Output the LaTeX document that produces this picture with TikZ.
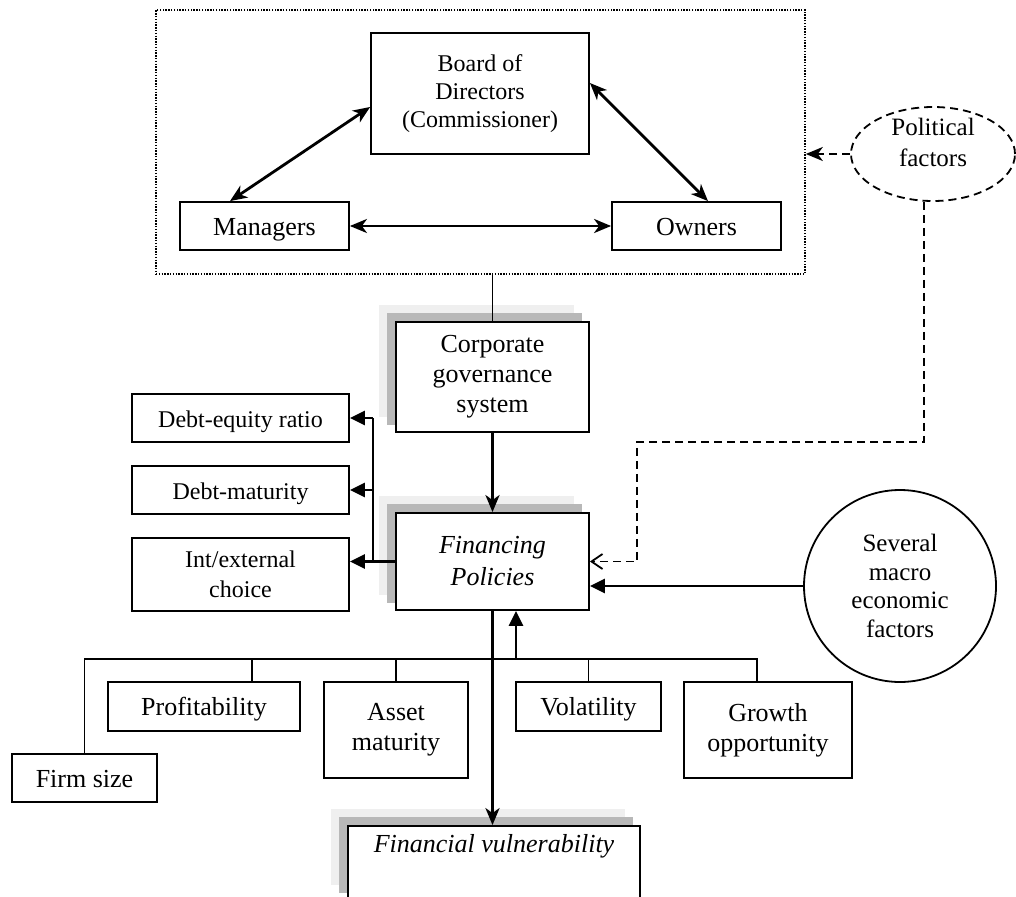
\documentclass[tikz,border=0pt]{standalone}
\usepackage{fontspec}
\setmainfont{Liberation Serif}
\usetikzlibrary{arrows.meta,shapes.geometric,backgrounds,calc}
\definecolor{shlight}{HTML}{EFEFEF}
\definecolor{shdark}{HTML}{B8B8B8}
\newcommand{\fz}[2]{\fontsize{#1}{#2}\selectfont}
\newcommand{\dropshadows}[1]{%
  \fill[shlight] ([shift={(-16,-16)}]#1.south west) rectangle ([shift={(-16,-16)}]#1.north east);
  \fill[shdark] ([shift={(-8,-8)}]#1.south west) rectangle ([shift={(-8,-8)}]#1.north east);}
\tikzset{
  box/.style={draw, line width=1.8pt, fill=white, align=center, inner sep=0pt, font=\fz{26}{30}},
  single/.style={text height=18pt, text depth=0pt},
  smallbox/.style={box, font=\fz{24}{30}},
  link/.style={line width=1.7pt},
  tri/.tip={Triangle[length=15pt,width=14pt]},
  stl/.tip={Stealth[length=17pt,width=14pt,inset=5pt]},
  arr/.style={line width=2.8pt, -tri},
  sarr/.style={line width=2.8pt, -stl},
  dbl/.style={line width=2.8pt, stl-stl},
  dsh/.style={line width=1.8pt, dash pattern=on 8pt off 5pt},
}
\begin{document}
\begin{tikzpicture}[x=1pt,y=-1pt]
\useasboundingbox (0,0) rectangle (1016,896);
\clip (0,0) rectangle (1016,896);

% governance group (dotted frame)
\node[draw, line width=1.6pt, dash pattern=on 1.4pt off 1.4pt, minimum width=649pt, minimum height=264pt, inner sep=0pt] (gov) at (480.5,142) {};
\node[box, minimum width=218pt, minimum height=121pt, font=\fz{24}{28}] (board) at (480,93.5) {Board of\\Directors\\(Commissioner)};
\node[box, single, minimum width=169pt, minimum height=48pt] (managers) at (264.5,226) {Managers};
\node[box, single, minimum width=169pt, minimum height=48pt] (owners) at (696.5,226) {Owners};

\draw[dbl] ([yshift=-13.5pt]board.west) -- ([xshift=-34.5pt]managers.north);
\draw[dbl] ([yshift=10.5pt]board.east) -- ([xshift=11.5pt]owners.north);
\draw[dbl] (managers.east) -- (owners.west);

% political factors
\node[draw, ellipse, line width=1.8pt, dash pattern=on 8pt off 5pt, minimum width=164pt, minimum height=94pt, inner sep=0pt,
      label={[yshift=12pt, align=center, font=\fz{25}{31}]center:Political\\factors}] (pol) at (933,154) {};
\draw[dsh, -stl] (pol.west) -- (pol.west -| gov.east);

% main chain
\node[box, minimum width=193pt, minimum height=110pt] (corp) at (492.5,377) {Corporate\\governance\\system};
\node[box, minimum width=193pt, minimum height=97pt, font=\fz{26}{32}\itshape] (fin) at (492.5,561.5) {Financing\\Policies};
\node[box, minimum width=292pt, minimum height=0pt, text height=26pt, text depth=48pt, font=\fz{26}{30}\itshape] (fv) at (494,863) {Financial vulnerability};

\begin{scope}[on background layer]
  \dropshadows{corp}
  \dropshadows{fin}
  \dropshadows{fv}
\end{scope}

\draw[link] (corp.north |- gov.south) -- (corp.north);
\draw[sarr] (corp.south) -- (fin.north);
\draw[sarr] (fin.south) -- (fin.south |- fv.north);

% left outcome boxes
\node[smallbox, single, minimum width=217pt, minimum height=48pt] (de) at (240.5,418) {Debt-equity ratio};
\node[smallbox, single, minimum width=217pt, minimum height=48pt] (dm) at (240.5,490) {Debt-maturity};
\node[smallbox, minimum width=217pt, minimum height=73pt] (ie) at (240.5,574.5) {Int/external\\choice};

\coordinate (bt) at (373,418);
\coordinate (bb) at (373,561.5);
\draw[line width=2.8pt] (bb) -- (bt);
\draw[arr] (fin.west) -- (fin.west -| ie.east);
\draw[arr] (bt) -- (bt -| de.east);
\draw[arr] (bt |- dm.east) -- (dm.east);

% macro factors
\node[draw, circle, line width=1.8pt, minimum size=192pt, inner sep=0pt, align=center, font=\fz{25}{28.5}] (macro) at (900,586) {Several\\macro\\economic\\factors};
\draw[arr] (macro.west) -- (macro.west -| fin.east);

% political dashed path to financing
\coordinate (p1) at (924,442);
\coordinate (p2) at (637,442);
\draw[dsh, -{Straight Barb[length=11pt,width=15pt]}] ([xshift=-9pt]pol.south) -- (p1) -- (p2) -- (p2 |- fin.east) -- (fin.east);

% firm-level factors
\node[box, single, minimum width=192pt, minimum height=49pt] (prof) at (204,706.5) {Profitability};
\node[box, minimum width=144pt, minimum height=96pt] (asset) at (396,730) {Asset\\maturity};
\node[box, single, minimum width=145pt, minimum height=49pt] (vol) at (588.5,706.5) {Volatility};
\node[box, minimum width=168pt, minimum height=96pt] (growth) at (768,730) {Growth\\opportunity};
\node[box, single, minimum width=145pt, minimum height=48pt] (firm) at (84.5,778) {Firm size};

\coordinate (busL) at (84.5,659);
\coordinate (busR) at (757,659);
\draw[link] (firm.north) -- (busL) -- (busR) -- (busR |- growth.north);
\draw[link] (252,659) -- (252,0 |- prof.north);
\draw[link] (asset.north |- busL) -- (asset.north);
\draw[link] (vol.north |- busL) -- (vol.north);
\draw[arr] (516,659) -- (516,0 |- fin.south);
\end{tikzpicture}
\end{document}
